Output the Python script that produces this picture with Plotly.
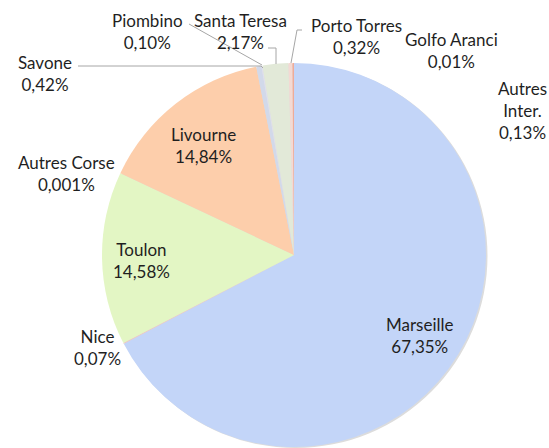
import plotly.graph_objects as go

W, H = 549, 448

labels = ["Marseille", "Nice", "Toulon", "Autres Corse", "Livourne", "Savone",
          "Piombino", "Santa Teresa", "Porto Torres", "Golfo Aranci", "Autres Inter."]
values = [67.35, 0.07, 14.58, 0.001, 14.84, 0.42, 0.10, 2.17, 0.32, 0.01, 0.13]
value_text = ["67,35%", "0,07%", "14,58%", "0,001%", "14,84%", "0,42%",
              "0,10%", "2,17%", "0,32%", "0,01%", "0,13%"]
display_names = ["Marseille", "Nice", "Toulon", "Autres Corse", "Livourne", "Savone",
                 "Piombino", "Santa Teresa", "Porto Torres", "Golfo Aranci", "Autres<br>Inter."]
colors = ["#c3d5f8", "#f2c4bf", "#e3f6c4", "#f6d3c0", "#fdceab", "#d2d9ea",
          "#dfe0ee", "#e2e9d8", "#f4d9d3", "#fbd3b3", "#f0ab98"]

# pie geometry (pixels)
cx, cy, r = 294, 255, 192

def px(x):
    return min(1, max(0, x / W))

def py(y):
    return min(1, max(0, 1 - y / H))

fig = go.Figure()

# soft shadow
fig.add_trace(go.Pie(
    values=[1], labels=["shadow"], marker=dict(colors=["#dcdcdc"], line=dict(width=0)),
    textinfo="none", hoverinfo="skip", sort=False, showlegend=False,
    domain=dict(x=[px(cx - r + 1), px(cx + r + 2)], y=[py(cy + r + 2), py(cy - r + 1)]),
))

fig.add_trace(go.Pie(
    labels=labels, values=values, sort=False, direction="clockwise", rotation=0,
    marker=dict(colors=colors, line=dict(width=0)),
    textinfo="none", showlegend=False,
    domain=dict(x=[px(cx - r), px(cx + r)], y=[py(cy + r), py(cy - r)]),
))

# label positions (pixel centers)
label_pos = {
    "Marseille": (420, 335),
    "Nice": (97, 347),
    "Toulon": (141, 260),
    "Autres Corse": (66, 173),
    "Livourne": (203, 145),
    "Savone": (45, 74),
    "Piombino": (147, 31),
    "Santa Teresa": (240, 31),
    "Porto Torres": (357, 37),
    "Golfo Aranci": (451, 51),
    "Autres Inter.": (522, 110),
}

for name, disp, vt in zip(labels, display_names, value_text):
    x, y = label_pos[name]
    fig.add_annotation(
        x=px(x), y=py(y), xref="paper", yref="paper",
        text=f"{disp}<br>{vt}", showarrow=False, align="center",
        font=dict(family="Lato, Carlito, Calibri, sans-serif", size=17, color="#1f1f1f"),
        xanchor="center", yanchor="middle",
    )

# leader lines
leaders = [
    [(78, 66), (261, 66), (263, 68)],          # Savone
    [(189, 24), (262, 65)],                    # Piombino
    [(268, 48), (276, 48), (276, 64)],         # Santa Teresa
    [(302, 30), (297, 30), (291, 63)],         # Porto Torres
]
for pts in leaders:
    for (x0, y0), (x1, y1) in zip(pts[:-1], pts[1:]):
        fig.add_shape(type="line", xref="paper", yref="paper",
                      x0=px(x0), y0=py(y0), x1=px(x1), y1=py(y1),
                      line=dict(color="#a6a6a6", width=1))

fig.update_layout(
    width=W, height=H, margin=dict(l=0, r=0, t=0, b=0),
    paper_bgcolor="white", plot_bgcolor="white",
)

fig.write_html("out.html", config={"displayModeBar": False},
               post_script="document.body.style.margin='0';")
